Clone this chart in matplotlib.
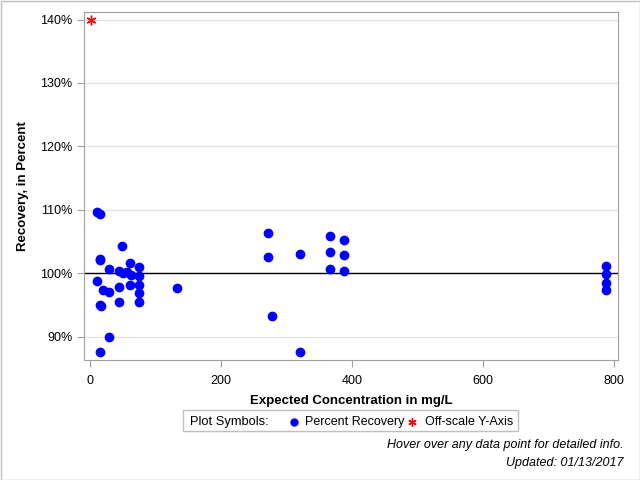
import numpy as np
import matplotlib.pyplot as plt
from matplotlib.lines import Line2D
from matplotlib.patches import Rectangle

plt.rcParams['font.family'] = ['Liberation Sans', 'DejaVu Sans']
plt.rcParams['font.size'] = 9

# expected concentration (mg/L) and percent recovery
conc = [11, 15, 49, 15, 15, 29, 44, 50, 56, 62, 61, 75, 75, 75, 75, 75,
        61, 44, 44, 11, 20, 29, 15, 16, 29, 15, 133,
        272, 272, 278, 320, 320, 367, 367, 367, 387, 387, 387,
        788, 788, 788, 788]
recov = [109.7, 109.4, 104.3, 102.2, 102.1, 100.7, 100.3, 100.0, 100.2, 99.7,
         101.6, 100.9, 99.6, 98.2, 96.8, 95.5,
         98.1, 97.8, 95.5, 98.7, 97.3, 97.1, 95.0, 94.8, 89.9, 87.5, 97.7,
         106.3, 102.5, 93.2, 103.1, 87.5, 105.9, 103.3, 100.6, 105.3, 102.8, 100.3,
         101.1, 99.8, 98.5, 97.3]
# off-scale points
off_conc = [2]
off_recov = [140]

yticks = [90, 100, 110, 120, 130, 140]
xticks = [0, 200, 400, 600, 800]

fig = plt.figure(figsize=(6.4, 4.8), dpi=100)
ax = fig.add_axes([84/640, 1-360/480, 534/640, 348/480])

for t in yticks:
    ax.axhline(t, color='#e3e3e3', lw=0.9, zorder=0)
ax.axhline(100, color='black', lw=1, zorder=1)

ax.plot(conc, recov, 'o', color='#0000ff', ms=6, mec='#0000ff', zorder=3)
ax.plot(off_conc, off_recov, marker=(6, 2, 0), ls='none', color='#ff0000', ms=7, mew=1, zorder=3)

ax.set_xlim(-9.2, 806)
ax.set_ylim(86.3, 141.2)
ax.set_xticks(xticks)
ax.set_yticks(yticks)
ax.set_yticklabels(['%d%%' % t for t in yticks])
for s in ax.spines.values():
    s.set_color('#a0a0a0')
ax.tick_params(colors='#a0a0a0', labelcolor='black', labelsize=9, length=5)
ax.tick_params(axis='x', pad=6)

ax.set_xlabel('Expected Concentration in mg/L', fontweight='bold', fontsize=9.5, labelpad=5.5)
ax.set_ylabel('Recovery, in Percent', fontweight='bold', fontsize=9.5, labelpad=8)

# legend box
fig.patches.append(Rectangle((183/640, 1-431/480), 335/640, 21/480, transform=fig.transFigure,
                             fill=False, ec='#c0c0c0', lw=1))
fig.text(190/640, 1-422/480, 'Plot Symbols:', va='center', fontsize=9.3)
fig.lines.append(Line2D([294/640], [1-422/480], marker='o', color='#0000ff', ms=5,
                        transform=fig.transFigure))
fig.text(305/640, 1-422/480, 'Percent Recovery', va='center', fontsize=9)
fig.lines.append(Line2D([412/640], [1-422/480], marker=(6, 2, 0), color='#ff0000', ms=6, mew=1,
                        transform=fig.transFigure))
fig.text(425/640, 1-422/480, 'Off-scale Y-Axis', va='center', fontsize=9)

fig.text(624/640, 1-445/480, 'Hover over any data point for detailed info.', ha='right',
         va='center', style='italic', fontsize=9)
fig.text(624/640, 1-463/480, 'Updated: 01/13/2017', ha='right', va='center',
         style='italic', fontsize=9)

fig.patches.append(Rectangle((0.5/640, 0.5/480), 639/640, 479/480, transform=fig.transFigure,
                             fill=False, ec='#c0c0c0', lw=1))

fig.savefig('out.png', dpi=100)
